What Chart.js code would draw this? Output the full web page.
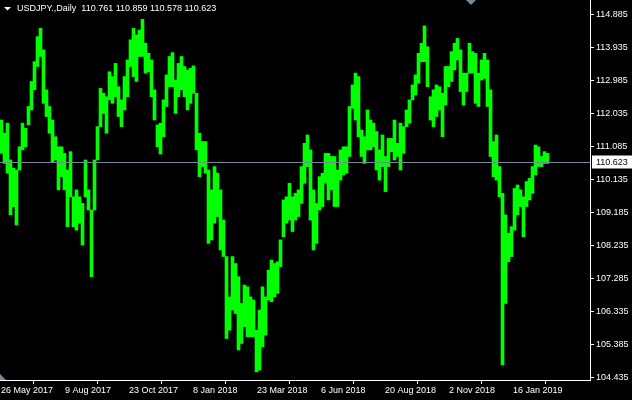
<!DOCTYPE html>
<html>
<head>
<meta charset="utf-8">
<title>USDJPY Daily</title>
<script src="https://cdn.jsdelivr.net/npm/chart.js@4.4.1/dist/chart.umd.min.js"></script>
<style>
  html, body { margin: 0; padding: 0; background: #000; }
  canvas { display: block; }
</style>
</head>
<body>
<canvas id="priceChart" width="632" height="400"></canvas>
<script>
// caption: symbol and last bar (open, high, low, close)
const symbolName = "USDJPY.,Daily";
const lastBar = [110.761, 110.859, 110.578, 110.623];

// every entry below covers 3 daily bars, oldest first
const barDays = 3;
const barHighs = [
  111.84, 111.46, 111.75, 110.69, 110.45, 110.40, 111.07, 111.75, 111.60, 112.23,
  112.95, 113.52, 114.24, 114.48, 113.86, 112.71, 112.23, 111.84, 111.36, 111.07,
  111.07, 110.88, 110.40, 110.93, 109.63, 109.83, 109.63, 109.44, 110.69, 109.83,
  109.25, 110.69, 111.65, 112.75, 112.61, 112.51, 113.23, 113.09, 113.47, 112.80,
  112.42, 113.09, 113.57, 114.15, 114.48, 114.29, 114.43, 114.74, 114.05, 113.76,
  113.57, 112.71, 111.70, 111.75, 112.42, 113.14, 113.67, 113.78, 112.99, 113.47,
  113.67, 113.38, 113.28, 113.33, 113.40, 112.61, 111.46, 111.22, 111.22, 110.40,
  109.83, 110.50, 110.31, 109.83, 108.96, 107.91, 106.75, 107.91, 107.71, 107.33,
  106.56, 107.09, 107.04, 106.75, 106.66, 105.79, 106.37, 107.04, 106.75, 107.52,
  107.81, 107.71, 107.76, 108.39, 109.54, 109.63, 110.02, 109.63, 109.73, 109.83,
  110.50, 111.17, 111.41, 110.98, 109.83, 109.44, 110.21, 110.31, 110.88, 110.88,
  110.79, 110.79, 110.40, 110.98, 111.07, 111.07, 112.23, 112.85, 113.19, 113.09,
  111.55, 111.36, 112.13, 111.84, 111.75, 111.51, 110.98, 111.41, 110.79, 111.31,
  111.31, 111.84, 111.17, 111.75, 111.65, 112.13, 112.42, 112.85, 113.14, 113.76,
  114.05, 114.55, 113.95, 112.51, 112.71, 112.85, 112.80, 112.61, 113.38, 113.38,
  113.81, 114.05, 114.19, 113.86, 113.19, 113.19, 114.05, 113.81, 113.76, 113.19,
  113.57, 113.76, 113.57, 112.71, 111.22, 111.41, 110.50, 109.73, 109.11, 108.58,
  108.77, 109.87, 109.97, 109.83, 109.63, 110.07, 110.16, 110.50, 111.12, 111.07,
  110.79, 110.93, 110.88
];
const barLows = [
  110.88, 110.59, 110.31, 109.11, 109.35, 108.82, 110.40, 110.98, 111.07, 111.70,
  112.13, 112.71, 113.38, 113.67, 112.32, 111.94, 111.46, 110.64, 110.69, 109.83,
  110.21, 109.83, 108.77, 109.63, 108.77, 108.67, 108.87, 108.24, 109.63, 109.25,
  107.33, 109.25, 110.69, 111.65, 112.03, 111.46, 112.42, 112.32, 112.51, 111.94,
  111.65, 112.13, 112.51, 113.38, 113.09, 112.95, 113.67, 113.67, 113.19, 113.23,
  112.51, 111.84, 111.07, 110.86, 111.36, 112.23, 112.80, 112.80, 112.03, 112.51,
  112.71, 112.51, 112.13, 112.32, 112.61, 110.98, 110.21, 110.50, 110.31, 108.29,
  108.39, 108.87, 109.06, 108.10, 107.91, 105.55, 105.79, 106.37, 106.27, 105.22,
  105.41, 105.89, 105.60, 105.60, 105.60, 104.59, 104.64, 105.31, 105.65, 106.66,
  106.61, 106.75, 106.85, 107.62, 108.48, 108.87, 108.96, 108.63, 108.96, 109.06,
  109.44, 110.02, 110.50, 108.96, 108.10, 108.29, 109.25, 109.35, 110.02, 109.54,
  109.83, 109.35, 109.35, 110.11, 110.26, 110.31, 110.79, 112.18, 111.84, 111.36,
  110.79, 110.59, 110.98, 110.98, 111.07, 110.40, 110.11, 110.50, 109.78, 110.50,
  110.93, 110.69, 110.79, 110.40, 110.88, 111.65, 111.75, 112.42, 112.56, 112.90,
  113.52, 113.52, 112.80, 111.84, 111.65, 111.94, 112.13, 111.36, 112.27, 112.80,
  112.95, 113.28, 113.57, 112.66, 112.27, 112.66, 113.19, 113.19, 112.32, 112.23,
  112.99, 113.04, 112.23, 110.79, 110.21, 110.11, 109.63, 104.79, 106.56, 107.76,
  107.91, 108.67, 109.11, 109.35, 108.48, 109.35, 109.54, 109.73, 110.26, 110.50,
  110.50, 110.59, 110.59
];

// price axis
const priceMin = 104.357, priceMax = 115.295;
const priceTicks = [104.435, 105.385, 106.335, 107.285, 108.235, 109.185,
                    110.135, 111.085, 112.035, 112.985, 113.935, 114.885];

// time axis: day index of each labelled bar
const dateLabels = ["26 May 2017", "9 Aug 2017", "23 Oct 2017", "8 Jan 2018", "23 Mar 2018",
                    "6 Jun 2018", "20 Aug 2018", "2 Nov 2018", "16 Jan 2019"];
const dateTickDays = [1, 65, 129, 193, 257, 321, 385, 449, 513];
const dayMax = 590; // visible days incl. right shift

const axisFont = { family: "'Liberation Sans', Arial, sans-serif", size: 9 };
const fontCss = "9px 'Liberation Sans', Arial, sans-serif";

const bars = barHighs.map((h, i) => ({ x: i * barDays + barDays / 2, y: [barLows[i], h] }));

const mtPlugin = {
  id: 'mtDecor',
  beforeDraw(chart) {
    const c = chart.ctx;
    c.save();
    c.fillStyle = '#000';
    c.fillRect(0, 0, chart.width, chart.height);
    c.restore();
  },
  afterDraw(chart) {
    const c = chart.ctx, area = chart.chartArea;
    const py = Math.round(chart.scales.y.getPixelForValue(lastBar[3])) + 0.5;
    c.save();
    // bid line
    c.strokeStyle = '#778899';
    c.lineWidth = 1;
    c.beginPath();
    c.moveTo(area.left, py);
    c.lineTo(area.right, py);
    c.stroke();
    // price label
    c.fillStyle = '#fff';
    c.fillRect(area.right + 2, py - 7, chart.width - area.right - 2, 13);
    c.fillStyle = '#000';
    c.font = fontCss;
    c.textBaseline = 'middle';
    c.fillText(lastBar[3].toFixed(3), area.right + 6, py);
    // caption
    c.fillStyle = '#fff';
    c.beginPath();
    c.moveTo(4, 7); c.lineTo(11, 7); c.lineTo(7.5, 10.5); c.closePath();
    c.fill();
    c.fillText(symbolName + "  " + lastBar.map(v => v.toFixed(3)).join(" "), 17, 9);
    // shift marker and corner marker
    c.fillStyle = '#778899';
    c.beginPath();
    c.moveTo(466, 0); c.lineTo(476, 0); c.lineTo(471, 5); c.closePath();
    c.fill();
    c.beginPath();
    c.moveTo(area.left, area.bottom - 6); c.lineTo(area.left + 6, area.bottom); c.lineTo(area.left, area.bottom); c.closePath();
    c.fill();
    c.restore();
  }
};

new Chart(document.getElementById('priceChart'), {
  type: 'bar',
  data: {
    datasets: [{
      data: bars,
      backgroundColor: '#00ff00',
      borderWidth: 0,
      barThickness: barDays
    }]
  },
  options: {
    responsive: false,
    animation: false,
    events: [],
    layout: { padding: 0 },
    plugins: { legend: { display: false }, tooltip: { enabled: false } },
    scales: {
      x: {
        type: 'linear',
        min: 0,
        max: dayMax,
        offset: false,
        afterBuildTicks: s => { s.ticks = dateTickDays.map(v => ({ value: v })); },
        afterFit: s => { s.height = 20; s.paddingLeft = 0; s.paddingRight = 0; },
        ticks: {
          color: '#fff',
          font: axisFont,
          align: 'start',
          padding: 1,
          maxRotation: 0,
          autoSkip: false,
          callback: (v, i) => dateLabels[i]
        },
        grid: { drawOnChartArea: false, drawTicks: true, tickLength: 4, color: '#fff' },
        border: { display: true, color: '#fff', width: 1 }
      },
      y: {
        position: 'right',
        min: priceMin,
        max: priceMax,
        afterBuildTicks: s => { s.ticks = priceTicks.map(v => ({ value: v })); },
        afterFit: s => { s.width = 42; s.paddingTop = 0; s.paddingBottom = 0; },
        ticks: {
          color: '#fff',
          font: axisFont,
          padding: 2,
          autoSkip: false,
          callback: v => v.toFixed(3)
        },
        grid: { drawOnChartArea: false, drawTicks: true, tickLength: 4, color: '#fff' },
        border: { display: true, color: '#fff', width: 1 }
      }
    }
  },
  plugins: [mtPlugin]
});
</script>
</body>
</html>
